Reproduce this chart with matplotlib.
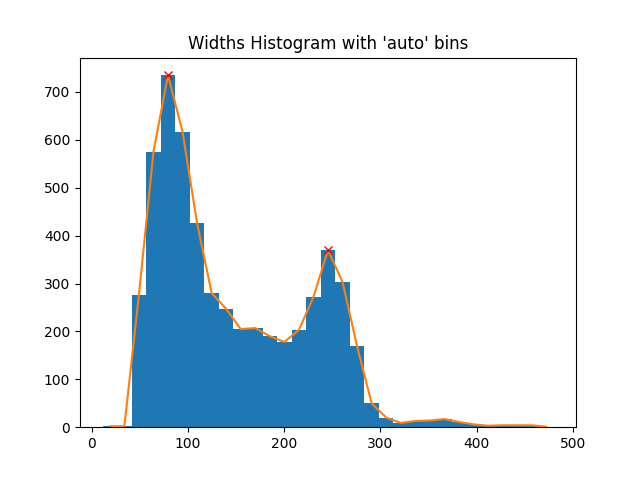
import numpy as np
import matplotlib
matplotlib.use("Agg")
import matplotlib.pyplot as plt

# Histogram of widths, 31 'auto' bins
bin_lo = 11.0
bin_hi = 480.0
n_bins = 31
counts = [2, 2, 276, 575, 735, 617, 426, 280, 247, 205, 207, 190, 178, 203, 272,
          370, 303, 169, 50, 20, 9, 13, 14, 17, 11, 6, 3, 4, 4, 4, 1]
peak_idx = [4, 15]

edges = np.linspace(bin_lo, bin_hi, n_bins + 1)
centers = (edges[:-1] + edges[1:]) / 2
counts = np.array(counts)

plt.figure(figsize=(6.4, 4.8))
plt.hist(centers, bins=edges, weights=counts)
plt.plot(centers, counts)
plt.plot(centers[peak_idx], counts[peak_idx], "x", color="red")
plt.title("Widths Histogram with 'auto' bins")
plt.savefig("out.png")
